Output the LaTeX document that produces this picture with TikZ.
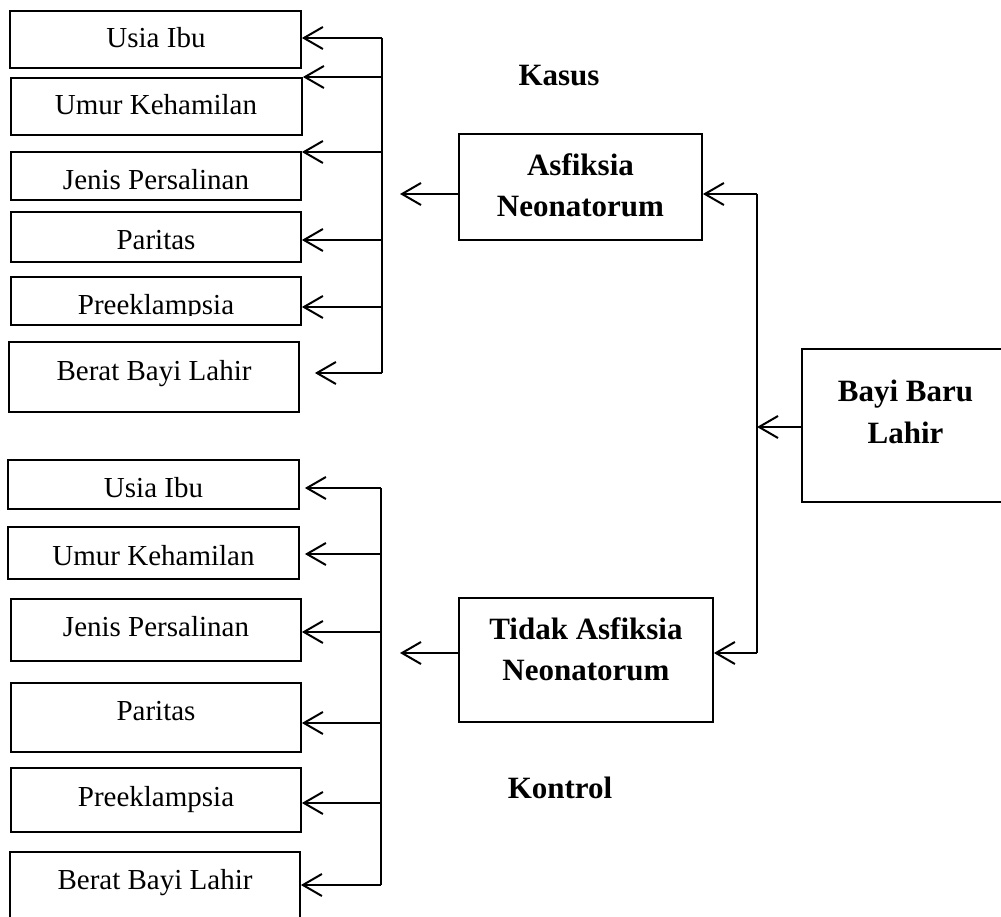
\documentclass[tikz,border=0pt]{standalone}
\usepackage{fontspec}
\setmainfont{Liberation Serif}
\usetikzlibrary{arrows.meta,calc}
\tikzset{
  box/.style={draw, line width=1.8pt, inner sep=0pt},
  lab/.style={inner sep=0pt, anchor=base, font=\fontsize{29}{34}\selectfont},
  blab/.style={inner sep=0pt, anchor=base, align=center, font=\fontsize{31}{41.5}\selectfont\bfseries},
  line/.style={line width=1.9pt},
  arr/.style={line width=1.9pt, -{Straight Barb[length=19pt,width=22pt,line width=2pt]}},
}
\begin{document}
\begin{tikzpicture}[x=1pt,y=-1pt]
\useasboundingbox (0,0) rectangle (1001,917);
\clip (0,0) rectangle (1001,917);
% ---------- top (Kasus) group ----------
\node[box, minimum width=291pt, minimum height=57pt] (t1) at (155.5,39.5) {};
\node[box, minimum width=291pt, minimum height=57pt] (t2) at (156.5,106.5) {};
\node[box, minimum width=290pt, minimum height=48pt] (t3) at (156,176) {};
\node[box, minimum width=290pt, minimum height=50pt] (t4) at (156,237) {};
\node[box, minimum width=290pt, minimum height=48pt] (t5) at (156,301) {};
\node[box, minimum width=290pt, minimum height=70pt] (t6) at (154,377) {};
\node[lab] (t1l) at (156,47.5) {Usia Ibu};
\node[lab] (t2l) at (156,115) {Umur Kehamilan};
\node[lab] (t3l) at (156,190) {Jenis Persalinan};
\node[lab] (t4l) at (156,250) {Paritas};
\begin{scope}
\clip (11,277) rectangle (301,315);
\node[lab] (t5l) at (156,314) {Preeklampsia};
\end{scope}
\node[lab] (t6l) at (154,380) {Berat Bayi Lahir};
\coordinate (kt1) at (382,38);
\coordinate (kt2) at (382,77);
\coordinate (kt3) at (382,152);
\coordinate (kt4) at (382,240);
\coordinate (kt5) at (382,307);
\coordinate (kt6) at (382,373);
\draw[line] (kt1) -- (kt6);
\draw[arr] (kt1) -- (kt1 -| t1.east);
\draw[arr] (kt2) -- (kt2 -| t2.east);
\draw[arr] (kt3) -- (kt3 -| t3.east);
\draw[arr] (kt4) -- (kt4 -| t4.east);
\draw[arr] (kt5) -- (kt5 -| t5.east);
\draw[arr] (kt6) -- ($(kt6 -| t6.east)+(15,0)$);
% ---------- bottom (Kontrol) group ----------
\node[box, minimum width=291pt, minimum height=49pt] (b1) at (153.5,484.5) {};
\node[box, minimum width=291pt, minimum height=52pt] (b2) at (153.5,553) {};
\node[box, minimum width=290pt, minimum height=62pt] (b3) at (156,630) {};
\node[box, minimum width=290pt, minimum height=69pt] (b4) at (156,717.5) {};
\node[box, minimum width=290pt, minimum height=64pt] (b5) at (156,800) {};
\node[box, minimum width=290pt, minimum height=100pt] (b6) at (155,902) {};
\node[lab] (b1l) at (153.5,497.7) {Usia Ibu};
\node[lab] (b2l) at (153.5,565) {Umur Kehamilan};
\node[lab] (b3l) at (156,636.7) {Jenis Persalinan};
\node[lab] (b4l) at (156,720.7) {Paritas};
\node[lab] (b5l) at (156,806) {Preeklampsia};
\node[lab] (b6l) at (155,889.3) {Berat Bayi Lahir};
\coordinate (kb1) at (381,488);
\coordinate (kb2) at (381,554);
\coordinate (kb3) at (381,632);
\coordinate (kb4) at (381,723);
\coordinate (kb5) at (381,803);
\coordinate (kb6) at (381,885);
\draw[line] (kb1) -- (kb6);
\draw[arr] (kb1) -- ($(kb1 -| b1.east)+(5,0)$);
\draw[arr] (kb2) -- ($(kb2 -| b2.east)+(5,0)$);
\draw[arr] (kb3) -- (kb3 -| b3.east);
\draw[arr] (kb4) -- (kb4 -| b4.east);
\draw[arr] (kb5) -- (kb5 -| b5.east);
\draw[arr] (kb6) -- (kb6 -| b6.east);
% ---------- middle ----------
\node[blab] (kasus) at (559,85.7) {Kasus};
\node[box, minimum width=243pt, minimum height=106pt] (asf) at (580.5,187) {};
\node[blab] (asfl) at (580.5,216.7) {Asfiksia\\Neonatorum};
\node[box, minimum width=254pt, minimum height=124pt] (tidak) at (586,660) {};
\node[blab] (tidakl) at (586,680.5) {Tidak Asfiksia\\Neonatorum};
\node[blab] (kontrol) at (560,798.3) {Kontrol};
% ---------- right ----------
\node[box, minimum width=240pt, minimum height=153pt] (bayi) at (922,425.5) {};
\node[blab] (bayil) at (905.5,443) {Bayi Baru\\Lahir};
\coordinate (ka) at (400,194);
\coordinate (kc) at (400,653);
\coordinate (kr1) at (757,194);
\coordinate (kr2) at (757,653);
\coordinate (kbb) at (757,427);
\draw[arr] (asf.west |- ka) -- (ka);
\draw[arr] (tidak.west |- kc) -- (kc);
\draw[line] (kr1) -- (kr2);
\draw[arr] (kr1) -- (kr1 -| asf.east);
\draw[arr] (kr2) -- (kr2 -| tidak.east);
\draw[arr] (bayi.west |- kbb) -- (kbb);
\end{tikzpicture}
\end{document}
